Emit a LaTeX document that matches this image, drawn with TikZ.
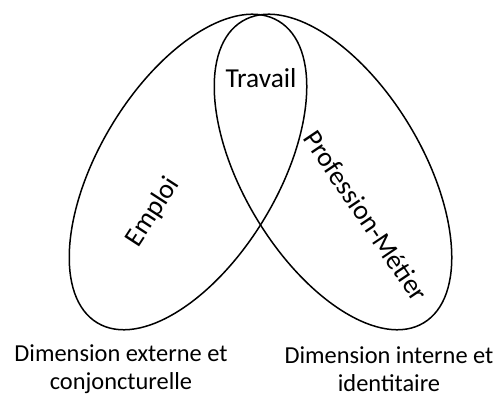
\documentclass[tikz,border=0pt]{standalone}
\usepackage{fontspec}
\setmainfont{Carlito}
\usepackage{tikz}
\tikzstyle{ring} = [draw=black, line width=0.75pt]
\tikzstyle{lbl} = [font=\fontsize{13.7}{16}\selectfont, inner sep=0pt]
\tikzstyle{dim} = [align=center, font=\fontsize{12.2}{14}\selectfont, inner sep=0pt]
\begin{document}
\begin{tikzpicture}[x=0.5pt, y=0.5pt]
	\useasboundingbox (0,0) rectangle (497,396);
	
	\draw [ring, rotate around={59:(188,224)}] (188,224) ellipse [x radius=176, y radius=89.5];
	\draw [ring, rotate around={-59:(333,224)}] (333,224) ellipse [x radius=176, y radius=89.5];
	
	\node (travail) [lbl] at (261,318) {Travail};
	\node (emploi) [lbl, rotate=57] at (153,184) {Emploi};
	\node (metier) [lbl, rotate=-56] at (366,180) {Profession-Métier};
	
	\node (ext) [dim] at (121,27) {Dimension externe et\\conjoncturelle};
	\node (int) [dim] at (389,27) {Dimension interne et\\identitaire};
	
\end{tikzpicture}
\end{document}
